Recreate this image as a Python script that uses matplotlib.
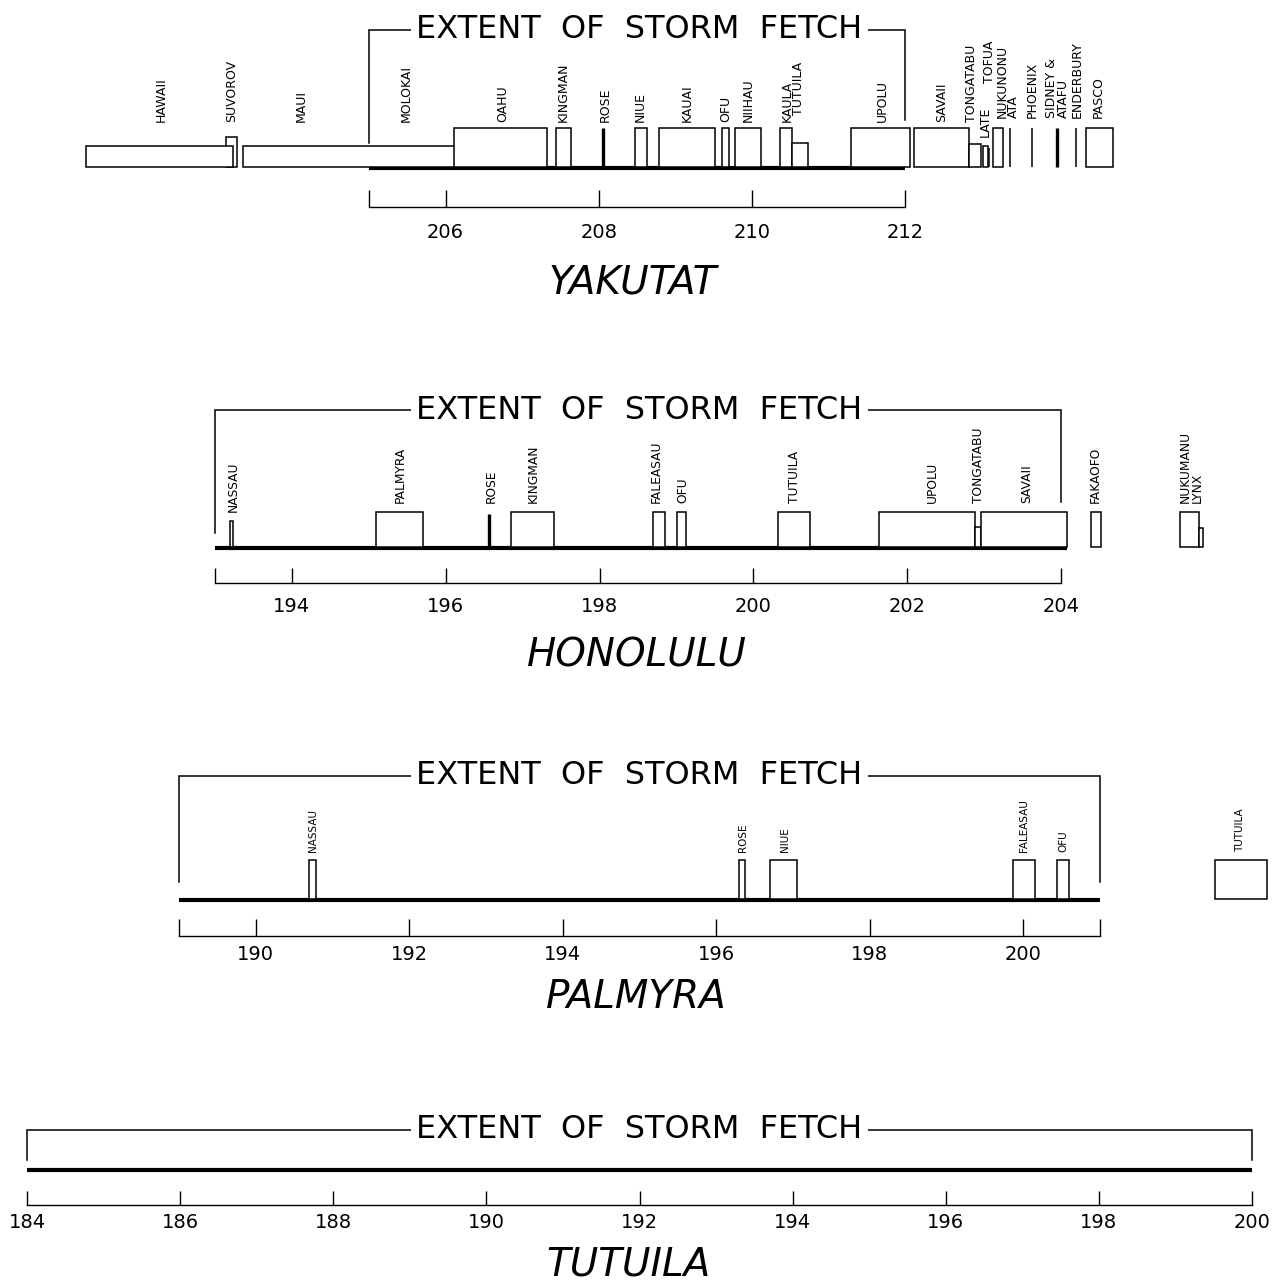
import matplotlib
matplotlib.use("Agg")
import matplotlib.pyplot as plt
from matplotlib.patches import Rectangle
from matplotlib.transforms import blended_transform_factory

W, H, DPI = 1273, 1282, 100
U = 39.0  # pixels per unit of island height

# ---------------- DATA ----------------
# YAKUTAT (degrees of azimuth)
yak_box_names = ["SUVOROV", "HAWAII", "MAUI-MOLOKAI", "OAHU", "KINGMAN", "NIUE", "KAUAI", "OFU",
                 "NIIHAU", "KAULA", "TUTUILA", "UPOLU", "SAVAII", "TONGATABU", "LATE", "NUKUNONU", "PASCO"]
yak_box_start = [203.13, 201.31, 203.35, 206.11, 207.44, 208.47, 208.79, 209.61,
                 209.78, 210.37, 210.52, 211.30, 212.12, 212.83, 213.02, 213.15, 214.36]
yak_box_end = [203.28, 203.22, 206.12, 207.32, 207.64, 208.63, 209.52, 209.70,
               210.12, 210.52, 210.73, 212.06, 212.83, 212.99, 213.08, 213.28, 214.71]
yak_box_height = [0.77, 0.54, 0.54, 1.0, 1.0, 1.0, 1.0, 1.0,
                  1.0, 1.0, 0.62, 1.0, 1.0, 0.59, 0.54, 1.0, 1.0]
yak_line_names = ["ROSE", "TOFUA", "ATA", "PHOENIX", "SIDNEY & ATAFU", "ENDERBURY"]
yak_line_pos = [208.06, 213.10, 213.37, 213.655, 213.98, 214.23]
yak_line_height = [1.0, 0.49, 1.0, 1.0, 1.0, 1.0]
yak_thick = ["ROSE", "SIDNEY & ATAFU"]
yak_labels = ["HAWAII", "SUVOROV", "MAUI", "MOLOKAI", "OAHU", "KINGMAN", "ROSE", "NIUE", "KAUAI",
              "OFU", "NIIHAU", "KAULA", "TUTUILA", "UPOLU", "SAVAII", "TONGATABU", "LATE", "TOFUA",
              "NUKUNONU", "ATA", "PHOENIX", "SIDNEY &", "ATAFU", "ENDERBURY", "PASCO"]
yak_label_x = [202.29, 203.21, 204.12, 205.49, 206.75, 207.54, 208.08, 208.54, 209.15,
               209.66, 209.95, 210.46, 210.61, 211.70, 212.48, 212.87, 213.05, 213.11,
               213.27, 213.42, 213.66, 213.91, 214.07, 214.25, 214.53]
yak_fetch = (205.0, 212.0)
yak_ticks = [205, 206, 208, 210, 212]
yak_ticklabels = [206, 208, 210, 212]

# HONOLULU
hon_box_names = ["NASSAU", "PALMYRA", "KINGMAN", "FALEASAU", "OFU", "TUTUILA", "UPOLU",
                 "TONGATABU", "SAVAII", "FAKAOFO", "NUKUMANU", "LYNX"]
hon_box_start = [193.20, 195.09, 196.85, 198.69, 199.01, 200.32, 201.63, 202.88, 202.96, 204.39, 205.55, 205.80]
hon_box_end = [193.24, 195.70, 197.41, 198.85, 199.13, 200.74, 202.88, 202.96, 204.08, 204.52, 205.80, 205.85]
hon_box_height = [0.67, 0.9, 0.9, 0.9, 0.9, 0.9, 0.9, 0.52, 0.9, 0.9, 0.9, 0.48]
hon_line_names = ["ROSE"]
hon_line_pos = [196.56]
hon_line_height = [0.85]
hon_thick = ["ROSE"]
hon_labels = ["NASSAU", "PALMYRA", "ROSE", "KINGMAN", "FALEASAU", "OFU", "TUTUILA", "UPOLU",
              "TONGATABU", "SAVAII", "FAKAOFO", "NUKUMANU", "LYNX"]
hon_label_x = [193.24, 195.41, 196.59, 197.14, 198.74, 199.08, 200.54, 202.33,
               202.93, 203.55, 204.45, 205.62, 205.77]
hon_fetch = (193.0, 204.0)
hon_ticks = [193, 194, 196, 198, 200, 202, 204]
hon_ticklabels = [194, 196, 198, 200, 202, 204]

# PALMYRA
pal_box_names = ["NASSAU", "ROSE", "NIUE", "FALEASAU", "OFU", "TUTUILA"]
pal_box_start = [190.70, 196.30, 196.70, 199.87, 200.44, 202.50]
pal_box_end = [190.79, 196.38, 197.05, 200.15, 200.60, 203.18]
pal_box_height = [1.0, 1.0, 1.0, 1.0, 1.0, 1.0]
pal_labels = ["NASSAU", "ROSE", "NIUE", "FALEASAU", "OFU", "TUTUILA"]
pal_label_x = [190.74, 196.35, 196.89, 200.01, 200.52, 202.82]
pal_fetch = (189.0, 201.0)
pal_ticks = [189, 190, 192, 194, 196, 198, 200, 201]
pal_ticklabels = [190, 192, 194, 196, 198, 200]

# TUTUILA
tut_fetch = (184.0, 200.0)
tut_ticks = [184, 186, 188, 190, 192, 194, 196, 198, 200]
tut_ticklabels = [184, 186, 188, 190, 192, 194, 196, 198, 200]

# ---------------- DRAWING ----------------
plt.rcParams['font.family'] = ['DejaVu Sans']
fig = plt.figure(figsize=(W / DPI, H / DPI), dpi=DPI)
fig.patch.set_facecolor('white')


def make_axes(d0, px0, d1, px1, base_px):
    ax = fig.add_axes([0, 0, 1, 1])
    ax.patch.set_alpha(0)
    s = (px1 - px0) / (d1 - d0)
    ax.set_xlim(d0 - px0 / s, d0 + (W - px0) / s)
    ax.set_ylim(-(H - base_px) / U, base_px / U)
    ax.axis('off')
    return ax


def draw_boxes(ax, starts, ends, heights, lw=1.1):
    for i, (a, b, h) in enumerate(zip(starts, ends, heights)):
        ax.add_patch(Rectangle((a, 0), b - a, h, facecolor='white', edgecolor='black',
                               linewidth=lw, zorder=3 + i * 0.01))


def draw_lines(ax, names, pos, heights, thick):
    for n, p, h in zip(names, pos, heights):
        ax.vlines(p, 0, h, color='black', linewidth=2.4 if n in thick else 1.1, zorder=4)


def draw_labels(ax, names, xs, bottoms_px, size):
    for n, x, b in zip(names, xs, bottoms_px):
        ax.text(x, b / U, n, rotation=90, ha='center', va='bottom', fontsize=size, zorder=5)


def draw_frame(ax, fetch, base_line, title_px, left_px, right_px, ticks, ticklabels,
               scale_px, tick_px, lab_px, name, name_px, name_x=0.5):
    a, b = fetch
    ty = title_px / U
    ax.plot([a, a, b, b], [left_px / U, ty, ty, right_px / U], color='black', lw=1.1,
            solid_joinstyle='miter', zorder=2)
    tr = blended_transform_factory(ax.transAxes, ax.transData)
    ax.text(0.502, ty, "EXTENT  OF  STORM  FETCH", transform=tr, ha='center', va='center',
            fontsize=23, zorder=6,
            bbox=dict(facecolor='white', edgecolor='none', pad=4))
    if base_line is not None:
        ax.plot(base_line, [-0.03, -0.03], color='black', lw=3.0, solid_capstyle='butt', zorder=2)
    ys = scale_px / U
    ax.plot([ticks[0], ticks[-1]], [ys, ys], color='black', lw=1.0, zorder=2)
    ax.vlines(ticks, ys, tick_px / U, color='black', lw=1.0, zorder=2)
    for t in ticklabels:
        ax.text(t, lab_px / U, str(t), ha='center', va='center', fontsize=14)
    ax.text(name_x, name_px / U, name, transform=tr, ha='center', va='center',
            fontsize=28, fontstyle='italic')


# YAKUTAT
ax = make_axes(205, 369, 212, 905, 167)
draw_boxes(ax, yak_box_start, yak_box_end, yak_box_height)
draw_lines(ax, yak_line_names, yak_line_pos, yak_line_height, yak_thick)
yak_bottoms = [45] * len(yak_labels)
for nm, v in [("TUTUILA", 52), ("LATE", 30), ("TOFUA", 84), ("NUKUNONU", 49), ("ATA", 49),
              ("PHOENIX", 49), ("SIDNEY &", 49), ("ATAFU", 49), ("ENDERBURY", 49), ("PASCO", 49)]:
    yak_bottoms[yak_labels.index(nm)] = v
draw_labels(ax, yak_labels, yak_label_x, yak_bottoms, 9)
draw_frame(ax, yak_fetch, yak_fetch, 137, 24, 47, yak_ticks, yak_ticklabels,
           -40, -23, -66, "YAKUTAT", -116, 0.497)

# HONOLULU
ax = make_axes(193, 215, 204, 1061, 547)
draw_boxes(ax, hon_box_start, hon_box_end, hon_box_height)
draw_lines(ax, hon_line_names, hon_line_pos, hon_line_height, hon_thick)
hon_bottoms = [44] * len(hon_labels)
hon_bottoms[0] = 35
draw_labels(ax, hon_labels, hon_label_x, hon_bottoms, 8.8)
draw_frame(ax, hon_fetch, (193.0, 204.08), 137, 14, 45, hon_ticks, hon_ticklabels,
           -36, -21, -59, "HONOLULU", -108)

# PALMYRA
ax = make_axes(189, 179, 201, 1100, 899)
draw_boxes(ax, pal_box_start, pal_box_end, pal_box_height)
draw_labels(ax, pal_labels, pal_label_x, [47] * len(pal_labels), 7.5)
draw_frame(ax, pal_fetch, pal_fetch, 123, 17, 17, pal_ticks, pal_ticklabels,
           -37, -20, -56, "PALMYRA", -98)

# TUTUILA
ax = make_axes(184, 27, 200, 1252, 1169)
draw_frame(ax, tut_fetch, tut_fetch, 39, 9, 9, tut_ticks, tut_ticklabels,
           -36, -22, -53, "TUTUILA", -96, 0.494)

fig.savefig("out.png", dpi=DPI, facecolor='white')
